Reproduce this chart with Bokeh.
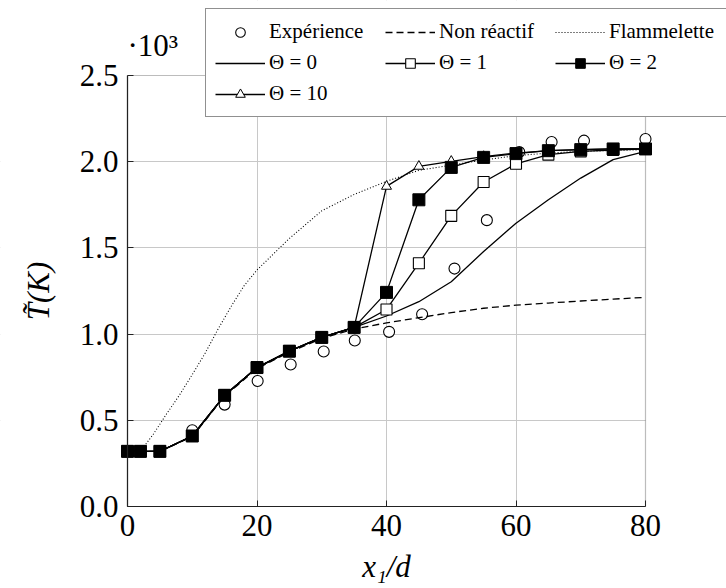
import math
from bokeh.plotting import figure
from bokeh.models import (Legend, LegendItem, Range1d, CustomJSTickFormatter,
                          FixedTicker, BoxAnnotation, Label)
from bokeh.embed import file_html
from bokeh.resources import INLINE

# ---- data (temperature in K) ----
exp_x = [10, 15, 20.1, 25.2, 30.3, 35.1, 40.4, 45.5, 50.5, 55.5, 60.5, 65.5, 70.5, 80]
exp_y = [442, 591, 728, 824, 899, 963, 1013, 1115, 1380, 1661, 2056, 2114, 2122, 2132]

x_model = [0, 2, 5, 10, 15, 20, 25, 30, 35, 40, 45, 50, 55, 60, 65, 70, 75, 80]
nonreact_y = [320, 320, 320, 405, 640, 800, 895, 975, 1030, 1065, 1095, 1125, 1150, 1168, 1180, 1192, 1203, 1213]
theta0_y = [320, 320, 320, 409, 645, 806, 901, 981, 1039, 1105, 1188, 1304, 1479, 1643, 1779, 1905, 2012, 2060]
theta1_y = [320, 320, 320, 409, 645, 806, 901, 981, 1039, 1143, 1411, 1686, 1882, 1988, 2041, 2060, 2068, 2074]
theta2_y = [320, 320, 320, 409, 645, 806, 901, 981, 1039, 1242, 1779, 1967, 2025, 2047, 2064, 2070, 2074, 2074]
theta10_y = [320, 320, 320, 409, 645, 806, 901, 981, 1039, 1857, 1973, 2002, 2030, 2050, 2064, 2070, 2074, 2074]

flam_x = [2, 4, 6, 8, 10, 12, 14, 16, 18, 20, 25, 30, 35, 40, 45, 50, 55, 60, 65, 70, 75, 80]
flam_y = [320, 420, 535, 645, 765, 890, 1030, 1160, 1280, 1372, 1555, 1715, 1810, 1886, 1950, 1980, 2010, 2035, 2050, 2060, 2065, 2070]

x_ticks = [0, 20, 40, 60, 80]
y_ticks = [0, 500, 1000, 1500, 2000, 2500]
x_lim = (0, 80)
y_lim = (0, 2500)

FONT = "Liberation Serif"
TICK_SIZE = "31px"
INK = "#222222"

# The axes box (x 0..80 -> 127..645 px, y 0..2500 -> 506..75 px) sits inside
# a frame that covers the whole canvas, so that the legend (which overflows
# the axes box in the reference), the tick labels and the axis titles are
# never clipped.  Axes are pinned to x=0 / y=0.
W, H = 726, 588
X0_PX, X1_PX = 127, 645
Y0_PX, Y1_PX = 506, 75
px_per_x = (X1_PX - X0_PX) / (x_lim[1] - x_lim[0])
px_per_y = (Y0_PX - Y1_PX) / (y_lim[1] - y_lim[0])

p = figure(width=W, height=H, output_backend="svg", toolbar_location=None,
           title=None,
           x_range=Range1d(-X0_PX / px_per_x, (W - X0_PX) / px_per_x),
           y_range=Range1d(-(H - Y0_PX) / px_per_y, Y0_PX / px_per_y),
           min_border_left=0, min_border_right=0, min_border_top=0,
           min_border_bottom=0)
p.background_fill_color = "white"
p.border_fill_color = "white"
p.outline_line_color = None

for ax in (p.xaxis[0], p.yaxis[0]):
    ax.major_label_text_font = FONT
    ax.major_label_text_font_size = TICK_SIZE
    ax.major_label_text_color = "black"
    ax.major_tick_in = 6
    ax.major_tick_out = 0
    ax.minor_tick_line_color = None
    ax.axis_line_color = INK
    ax.axis_line_width = 1.2
    ax.major_tick_line_color = INK
    ax.fixed_location = 0

p.xaxis[0].bounds = x_lim
p.yaxis[0].bounds = y_lim
p.xaxis[0].ticker = FixedTicker(ticks=x_ticks)
p.yaxis[0].ticker = FixedTicker(ticks=y_ticks)
p.yaxis[0].formatter = CustomJSTickFormatter(code="return (tick/1000).toFixed(1);")
p.xaxis[0].major_label_standoff = 8
p.yaxis[0].major_label_standoff = 9

p.xgrid.ticker = FixedTicker(ticks=[20, 40, 60])
p.ygrid.ticker = FixedTicker(ticks=[500, 1000, 1500, 2000])
p.xgrid.grid_line_color = "#c8c8c8"
p.ygrid.grid_line_color = "#c8c8c8"

# hide grid lines outside the axes box
for kw in (dict(left=x_lim[1]), dict(right=x_lim[0]),
           dict(top=y_lim[0]), dict(bottom=y_lim[1])):
    p.add_layout(BoxAnnotation(fill_color="white", fill_alpha=1.0,
                               line_color=None, level="underlay", **kw))
# axes box (top and right edges)
p.add_layout(BoxAnnotation(left=x_lim[0], right=x_lim[1], bottom=y_lim[0], top=y_lim[1],
                           fill_alpha=0, line_color=INK, line_width=1.2,
                           level="underlay"))

# ---- series ----
lw = 1.3
r_exp = p.scatter(exp_x, exp_y, marker="circle", size=11, fill_color="white",
                  line_color="black", line_width=1.1)
r_nr = p.line(x_model, nonreact_y, line_color="black", line_width=lw, line_dash="7 4")
r_fl = p.line(flam_x, flam_y, line_color="black", line_width=1.1, line_dash="1 2")
r_t0 = p.line(x_model, theta0_y, line_color="black", line_width=lw)
r_t1l = p.line(x_model, theta1_y, line_color="black", line_width=lw)
r_t1m = p.scatter(x_model, theta1_y, marker="square", size=11, fill_color="white",
                  line_color="black", line_width=1.1)
r_t10l = p.line(x_model, theta10_y, line_color="black", line_width=lw)
r_t10m = p.scatter(x_model, theta10_y, marker="triangle", size=10, fill_color="white",
                   line_color="black", line_width=1.0)
r_t2l = p.line(x_model, theta2_y, line_color="black", line_width=lw)
r_t2m = p.scatter(x_model, theta2_y, marker="square", size=12, fill_color="black",
                  line_color="black")

# exponent note above the y axis, axis titles
p.add_layout(Label(x=x_lim[0], y=(Y0_PX - 45) / px_per_y, text="\u00b710\u00b3",
                   text_font=FONT, text_font_size="31px", text_baseline="middle",
                   text_align="left", text_color="black"))
p.add_layout(Label(x=sum(x_lim) / 2, y=-(566 - Y0_PX) / px_per_y, text="x\u2081/d",
                   text_font=FONT, text_font_size="31px", text_font_style="italic",
                   text_baseline="middle", text_align="center", text_color="black"))
p.add_layout(Label(x=-(X0_PX - 38) / px_per_x, y=sum(y_lim) / 2, text="T\u0303(K)",
                   angle=math.pi / 2,
                   text_font=FONT, text_font_size="31px", text_font_style="italic",
                   text_baseline="middle", text_align="center", text_color="black"))

legend = Legend(items=[
    LegendItem(label="Expérience", renderers=[r_exp]),
    LegendItem(label="Non réactif", renderers=[r_nr]),
    LegendItem(label="Flammelette", renderers=[r_fl]),
    LegendItem(label="Θ = 0", renderers=[r_t0]),
    LegendItem(label="Θ = 1", renderers=[r_t1l, r_t1m]),
    LegendItem(label="Θ = 2", renderers=[r_t2l, r_t2m]),
    LegendItem(label="Θ = 10", renderers=[r_t10l, r_t10m]),
], location=(205, H - 117), ncols=3, orientation="horizontal")
legend.label_text_font = FONT
legend.label_text_font_size = "21px"
legend.label_text_color = "black"
legend.glyph_width = 50
legend.glyph_height = 24
legend.label_height = 27
legend.label_width = 112
legend.label_standoff = 4
legend.spacing = 4
legend.padding = 9
legend.margin = 0
legend.border_line_color = INK
legend.border_line_width = 1.2
legend.background_fill_alpha = 1.0
p.add_layout(legend, "center")

open("out.html", "w").write(file_html(p, INLINE))
